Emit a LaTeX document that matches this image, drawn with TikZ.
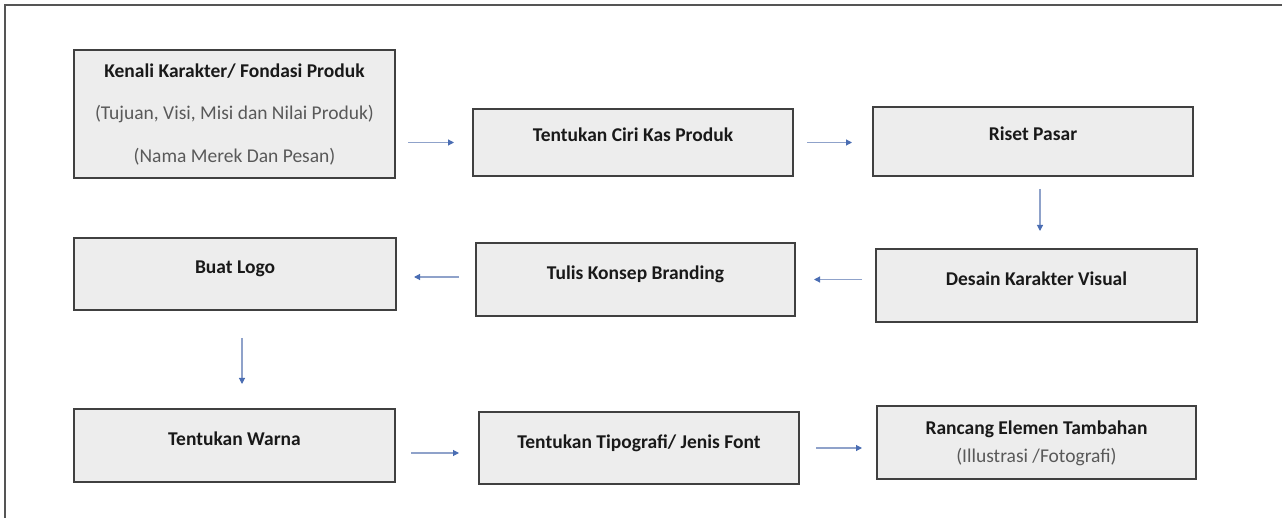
\documentclass[tikz,border=0pt]{standalone}
\usepackage{fontspec}
\setmainfont{Carlito}
\usetikzlibrary{arrows.meta,calc}
\definecolor{boxfill}{HTML}{EDEDED}
\definecolor{boxline}{HTML}{404040}
\definecolor{subtext}{HTML}{595959}
\definecolor{arrline}{HTML}{8FA2CA}
\definecolor{arrhead}{HTML}{4A6DB3}
\definecolor{frameline}{HTML}{555555}
\tikzset{
  box/.style={draw=boxline, line width=2pt, fill=boxfill, rectangle, inner sep=0pt},
  ttl/.style={anchor=base, inner sep=0pt, font=\fontsize{19.5}{21}\selectfont\bfseries, text=black!90},
  sub/.style={anchor=base, inner sep=0pt, font=\fontsize{19.5}{21}\selectfont, text=subtext},
  arr/.style={draw=arrline, line width=1.1pt, -{Triangle[length=6pt,width=6pt,color=arrhead]}},
}
\begin{document}
\begin{tikzpicture}[x=1pt,y=-1pt]
\useasboundingbox (0,0) rectangle (1282,518);
\draw[frameline, line width=1.5pt] (5,518) -- (5,5) -- (1282,5);

% boxes
\node[box, minimum width=321pt, minimum height=128pt] (b1) at (234.5,114) {};
\node[box, minimum width=320pt, minimum height=67pt] (b2) at (633,142.5) {};
\node[box, minimum width=320pt, minimum height=69pt] (b3) at (1033,141.5) {};
\node[box, minimum width=321pt, minimum height=73pt] (b4) at (1036.5,285.5) {};
\node[box, minimum width=319pt, minimum height=73pt] (b5) at (635.5,279.5) {};
\node[box, minimum width=322pt, minimum height=72pt] (b6) at (235,274) {};
\node[box, minimum width=321pt, minimum height=73pt] (b7) at (234.5,445.5) {};
\node[box, minimum width=320pt, minimum height=72pt] (b8) at (639,448) {};
\node[box, minimum width=319pt, minimum height=73pt] (b9) at (1036.5,442.5) {};

% texts
\node[ttl] (t1a) at ($(b1.center)+(0,-36)$) {Kenali Karakter/ Fondasi Produk};
\node[sub] (t1b) at ($(b1.center)+(0,6)$) {(Tujuan, Visi, Misi dan Nilai Produk)};
\node[sub] (t1c) at ($(b1.center)+(0,49)$) {(Nama Merek Dan Pesan)};
\node[ttl] (t2) at ($(b2.center)+(0,-1)$) {Tentukan Ciri Kas Produk};
\node[ttl] (t3) at ($(b3.center)+(0,-1)$) {Riset Pasar};
\node[ttl] (t4) at (b4.center) {Desain Karakter Visual};
\node[ttl] (t5) at (b5.center) {Tulis Konsep Branding};
\node[ttl] (t6) at (b6.center) {Buat Logo};
\node[ttl] (t7) at (b7.center) {Tentukan Warna};
\node[ttl] (t8) at (b8.center) {Tentukan Tipografi/ Jenis Font};
\node[ttl] (t9a) at ($(b9.center)+(0,-8.5)$) {Rancang Elemen Tambahan};
\node[sub] (t9b) at ($(b9.center)+(0,19.5)$) {(Illustrasi /Fotografi)};

% connector anchor points
\coordinate (p3) at ($(b3.south)+(7,0)$);
\coordinate (p5) at ($(b5.west)+(0,-2.5)$);
\coordinate (p6) at ($(b6.south)+(7,0)$);
\coordinate (p7) at ($(b7.east)+(0,7.5)$);

% arrows
\draw[arr, shorten <=12pt, shorten >=18pt] (b1.east |- b2.west) -- (b2.west);
\draw[arr, shorten <=13pt, shorten >=20pt] (b2.east) -- (b2.east -| b3.west);
\draw[arr, shorten <=12pt, shorten >=17pt] (p3) -- (p3 |- b4.north);
\draw[arr, shorten <=13pt, shorten >=18pt] (b4.west |- b5.east) -- (b5.east);
\draw[arr, shorten <=16pt, shorten >=17pt] (p5) -- (p5 -| b6.east);
\draw[arr, shorten <=27pt, shorten >=24pt] (p6) -- (p6 |- b7.north);
\draw[arr, shorten <=15pt, shorten >=19pt] (p7) -- (p7 -| b8.west);
\draw[arr, shorten <=16pt, shorten >=14pt] (b8.east) -- (b8.east -| b9.west);
\end{tikzpicture}
\end{document}
